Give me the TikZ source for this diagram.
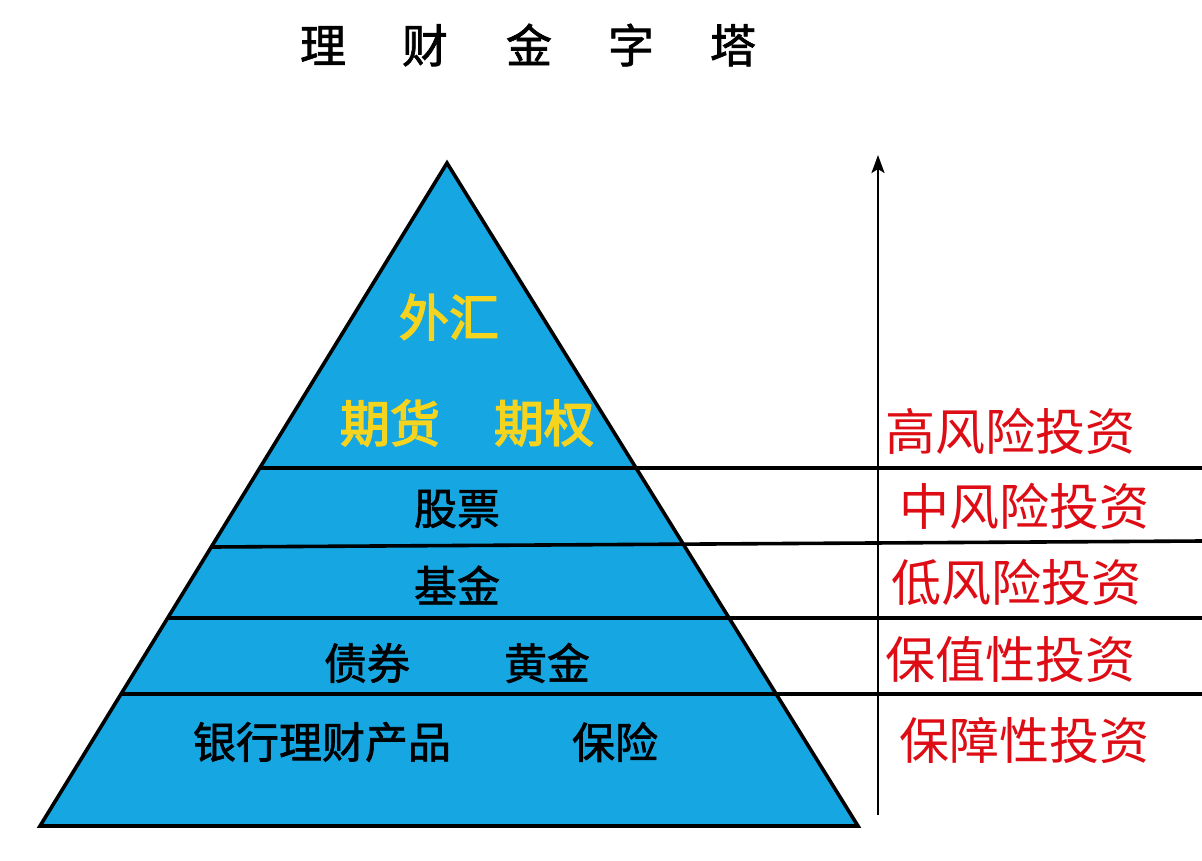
\documentclass[tikz,border=0pt]{standalone}
\usepackage{fontspec}
\newfontfamily\cjk{Noto Sans CJK SC}
\newfontfamily\cjkb[FakeBold=3]{Noto Sans CJK SC}
\newfontfamily\cjkm[FakeBold=1.5]{Noto Sans CJK SC}
\usetikzlibrary{arrows.meta}
\definecolor{pyrblue}{RGB}{22,166,226}
\definecolor{goldtext}{RGB}{244,212,30}
\definecolor{risktext}{RGB}{222,12,20}
\begin{document}
\begin{tikzpicture}[x=1pt,y=-1pt,
  divline/.style={line width=3.6pt,black},
  goldlbl/.style={text=goldtext,font=\cjkb\fontsize{50}{50}\selectfont,inner sep=0pt},
  blacklbl/.style={text=black,font=\cjkm\fontsize{43}{43}\selectfont,inner sep=0pt},
  risklbl/.style={text=risktext,font=\cjk\fontsize{50}{50}\selectfont,inner sep=0pt},
  titlelbl/.style={text=black,font=\cjkm\fontsize{46}{46}\selectfont,inner sep=0pt}]
\useasboundingbox (0,0) rectangle (1202,860);
\fill[white] (0,0) rectangle (1202,860);
% pyramid
\coordinate (apex) at (447,163);
\coordinate (bl) at (40,826);
\coordinate (br) at (858,826);
\filldraw[fill=pyrblue,draw=black,line width=3.6pt,line join=miter] (apex) -- (bl) -- (br) -- cycle;
% dividing lines
\coordinate (l1a) at (261,468); \coordinate (l1b) at (1202,468);
\coordinate (l2a) at (211,547); \coordinate (l2b) at (1202,541);
\coordinate (l3a) at (168,618); \coordinate (l3b) at (1202,618);
\coordinate (l4a) at (121,694); \coordinate (l4b) at (1202,694);
\draw[divline] (l1a) -- (l1b);
\draw[divline] (l2a) -- (l2b);
\draw[divline] (l3a) -- (l3b);
\draw[divline] (l4a) -- (l4b);
% arrow
\coordinate (arrbot) at (878,815);
\coordinate (arrtop) at (878,155);
\draw[line width=2.6pt,-{Stealth[length=18pt,width=13pt,inset=4pt]}] (arrbot) -- (arrtop);
% title
\node[titlelbl] (title) at (528,45) {理\hspace{56pt}财\hspace{58pt}金\hspace{56pt}字\hspace{56pt}塔};
% pyramid labels
\node[goldlbl] (waihui) at (449,317) {外汇};
\node[goldlbl] (qihuo) at (390,423) {期货};
\node[goldlbl] (qiquan) at (544,423) {期权};
\node[blacklbl] (gupiao) at (457,509) {股票};
\node[blacklbl] (jijin) at (457,585) {基金};
\node[blacklbl] (zhaiquan) at (367,663) {债券};
\node[blacklbl] (huangjin) at (547,663) {黄金};
\node[blacklbl] (yinhang) at (322,742) {银行理财产品};
\node[blacklbl] (baoxian) at (615,742) {保险};
% risk labels
\node[risklbl] (gao) at (1010,431) {高风险投资};
\node[risklbl] (zhong) at (1024,506) {中风险投资};
\node[risklbl] (di) at (1016,582) {低风险投资};
\node[risklbl] (baozhi) at (1010,660) {保值性投资};
\node[risklbl] (baozhang) at (1024,740) {保障性投资};
\end{tikzpicture}
\end{document}
